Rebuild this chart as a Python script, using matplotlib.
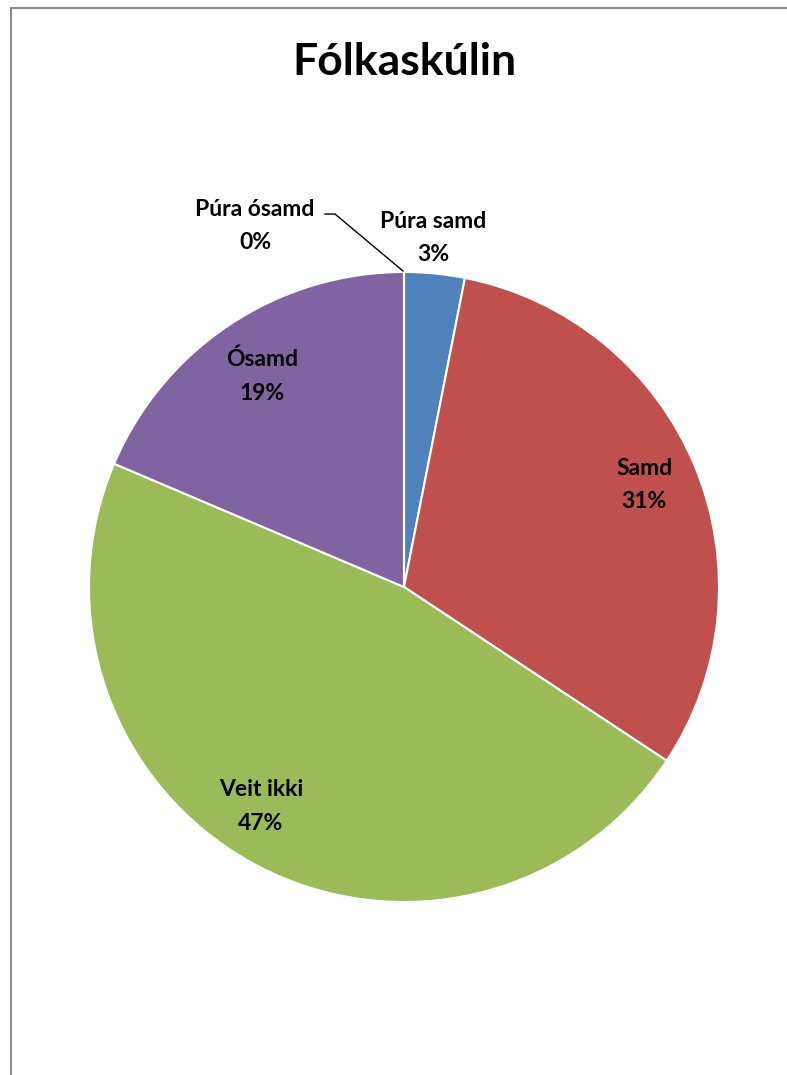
import matplotlib
matplotlib.use("Agg")
import matplotlib.pyplot as plt
from matplotlib.patches import Rectangle
from matplotlib.lines import Line2D

categories = ["Púra samd", "Samd", "Veit ikki", "Ósamd", "Púra ósamd"]
values = [3.1, 31.2, 47.1, 18.6, 0.0]
title = "Fólkaskúlin"
colors = ["#4F81BD", "#C0504D", "#9BBB59", "#8064A2", "#F79646"]

W, H = 787, 1075
fig = plt.figure(figsize=(W / 100, H / 100), dpi=100)
fig.patch.set_facecolor("white")

# outer chart border (cropped on right/bottom)
fig.add_artist(Rectangle((11 / W, -0.1), 2, 1 - 8 / H + 0.1, transform=fig.transFigure,
                         fill=False, edgecolor="#8c8c8c", linewidth=1.5))

cx, cy, r = 404, 587, 315
ax = fig.add_axes([(cx - r) / W, (H - cy - r) / H, 2 * r / W, 2 * r / H])
ax.pie(values, colors=colors, startangle=90, counterclock=False,
       wedgeprops=dict(edgecolor="white", linewidth=1.5), radius=1)
ax.set_xlim(-1, 1)
ax.set_ylim(-1, 1)
ax.set_aspect("equal")
ax.axis("off")

font = "Lato"
fig.text(404 / W, 1 - 62 / H, title, ha="center", va="center", fontsize=32,
         fontweight="bold", family=font)

label_pos = [(0.092, 1.108), (0.762, 0.324), (-0.454, -0.698), (-0.451, 0.670), (-0.473, 1.146)]
total = sum(values)
for cat, v, (lx, ly) in zip(categories, values, label_pos):
    ax.text(lx, ly, f"{cat}\n{round(100 * v / total)}%", ha="center", va="center",
            fontsize=16.5, fontweight="bold", family=font, linespacing=1.75, clip_on=False)

ax.add_line(Line2D([-0.251, -0.219, -0.003], [1.184, 1.184, 1.003], color="black",
                   linewidth=1.0, clip_on=False))

fig.savefig("out.png", dpi=100, facecolor="white")
